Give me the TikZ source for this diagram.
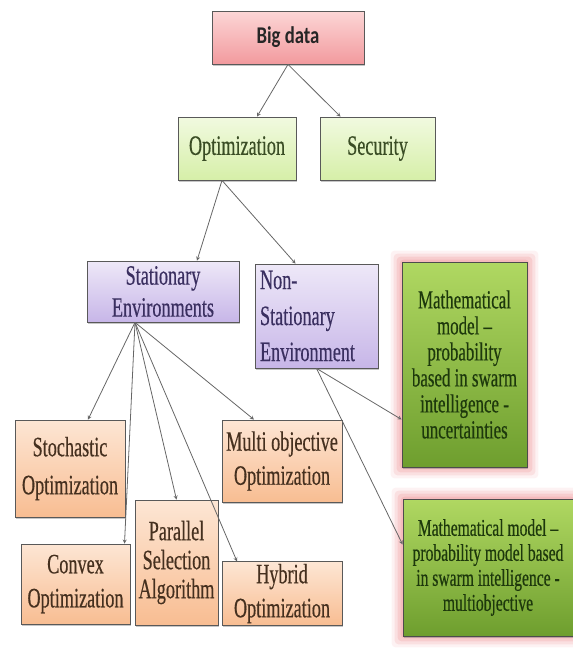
\documentclass[tikz,border=0pt]{standalone}
\usepackage{fontspec}
\setmainfont{Liberation Serif}[FakeStretch=0.65, FakeBold=0.4]
\newfontfamily\titlefont{Carlito}[FakeStretch=0.78]
\usetikzlibrary{calc, shadows, backgrounds}

\definecolor{redtop}{HTML}{FCD6D6}
\definecolor{redbot}{HTML}{F29A9E}
\definecolor{lgtop}{HTML}{F1FAE0}
\definecolor{lgbot}{HTML}{D6EFA8}
\definecolor{lgtext}{HTML}{3A4D25}
\definecolor{purtop}{HTML}{EEE8F8}
\definecolor{purbot}{HTML}{C7B6E8}
\definecolor{purtext}{HTML}{3A2F60}
\definecolor{ortop}{HTML}{FDE6D4}
\definecolor{orbot}{HTML}{F8BD92}
\definecolor{ortext}{HTML}{45301F}
\definecolor{dgtop}{HTML}{B0D862}
\definecolor{dgbot}{HTML}{6E9E2E}
\definecolor{dgtext}{HTML}{1D380C}
\definecolor{glow}{HTML}{F2A9AC}

\begin{document}
\begin{tikzpicture}[x=1pt, y=-1pt,
  box/.style={draw=black!65, line width=0.8pt, align=center, inner sep=2pt,
    drop shadow={shadow xshift=1pt, shadow yshift=-1.5pt, opacity=0.45}},
  redbox/.style={box, top color=redtop, bottom color=redbot, text=black!85,
    font=\titlefont\bfseries\fontsize{24}{28}\selectfont},
  lgbox/.style={box, top color=lgtop, bottom color=lgbot, text=lgtext,
    font=\fontsize{28}{32}\selectfont},
  purbox/.style={box, top color=purtop, bottom color=purbot, text=purtext,
    font=\fontsize{28}{32}\selectfont},
  orbox/.style={box, top color=ortop, bottom color=orbot, text=ortext,
    font=\fontsize{28}{34}\selectfont},
  dgbox/.style={box, draw=black!70, top color=dgtop, bottom color=dgbot, text=dgtext,
    font=\fontsize{26}{26}\selectfont},
  arr/.style={->, >=stealth, draw=black!60, line width=0.8pt}]

\useasboundingbox (0,0) rectangle (573,654);

\node[redbox, minimum width=152pt, minimum height=53pt] (bigdata) at (288,37.5) {Big data};
\node[lgbox, minimum width=118pt, minimum height=63pt] (optim) at (237,148.5) {Optimization};
\node[lgbox, minimum width=115pt, minimum height=63pt] (security) at (377.5,148.5) {Security};

\node[purbox, minimum width=152pt, minimum height=61pt] (stat) at (163,291.5) {Stationary\\Environments};
\node[purbox, minimum width=123pt, minimum height=104pt, text width=113pt, inner sep=5pt, align=left,
  font=\fontsize{28}{36}\selectfont] (nonstat) at (316.5,316) {Non-\\Stationary\\Environment};
\node[dgbox, minimum width=125pt, minimum height=205pt] (uncert) at (464.5,364.5)
  {Mathematical\\model –\\probability\\based in swarm\\intelligence -\\uncertainties};

\node[orbox, minimum width=110pt, minimum height=97pt, font=\fontsize{28}{38}\selectfont] (stoch) at (70,468.5) {Stochastic\\Optimization};
\node[orbox, minimum width=120pt, minimum height=82pt] (multi) at (282,461) {Multi objective\\Optimization};
\node[orbox, minimum width=109pt, minimum height=80pt] (convex) at (75.5,584) {Convex\\Optimization};
\node[orbox, minimum width=83pt, minimum height=125pt, inner sep=1pt, font=\fontsize{28}{29}\selectfont] (parallel) at (176.5,562.5) {Parallel\\Selection\\Algorithm};
\node[orbox, minimum width=120pt, minimum height=63pt] (hybrid) at (282,593.5) {Hybrid\\Optimization};
\node[dgbox, minimum width=170pt, minimum height=137pt, font=\fontsize{24}{25}\selectfont] (multiobj) at (488,567.5)
  {Mathematical model –\\probability model based\\in swarm intelligence -\\multiobjective};

\begin{scope}[on background layer]
\foreach \g/\o in {11/0.15, 8/0.25, 5/0.35, 2/0.5} {
  \fill[glow, opacity=\o, rounded corners=4pt] ($(uncert.south west)+(-\g,\g)$) rectangle ($(uncert.north east)+(\g,-\g)$);
  \fill[glow, opacity=\o, rounded corners=4pt] ($(multiobj.south west)+(-\g,\g)$) rectangle ($(multiobj.north east)+(\g,-\g)$);
}
\end{scope}

\draw[arr] (bigdata.south) -- ($(optim.north)+(20,0)$);
\draw[arr] (bigdata.south) -- ($(security.north)+(-37,0)$);
\draw[arr] ($(optim.south)+(-15,0)$) -- ($(stat.north)+(34,0)$);
\draw[arr] ($(optim.south)+(-15,0)$) -- ($(nonstat.north)+(-21,0)$);
\draw[arr] ($(stat.south)+(-28,0)$) -- ($(stoch.north)+(18,0)$);
\draw[arr] ($(stat.south)+(-28,0)$) -- ($(convex.north)+(49,0)$);
\draw[arr] ($(stat.south)+(-28,0)$) -- (parallel.north);
\draw[arr] ($(stat.south)+(-28,0)$) -- ($(hybrid.north)+(-45,0)$);
\draw[arr] ($(stat.south)+(-28,0)$) -- ($(multi.north)+(-28,0)$);
\draw[arr] (nonstat.south) -- ($(uncert.west)+(0,55)$);
\draw[arr] (nonstat.south) -- ($(multiobj.west)+(0,-23)$);
\end{tikzpicture}
\end{document}
